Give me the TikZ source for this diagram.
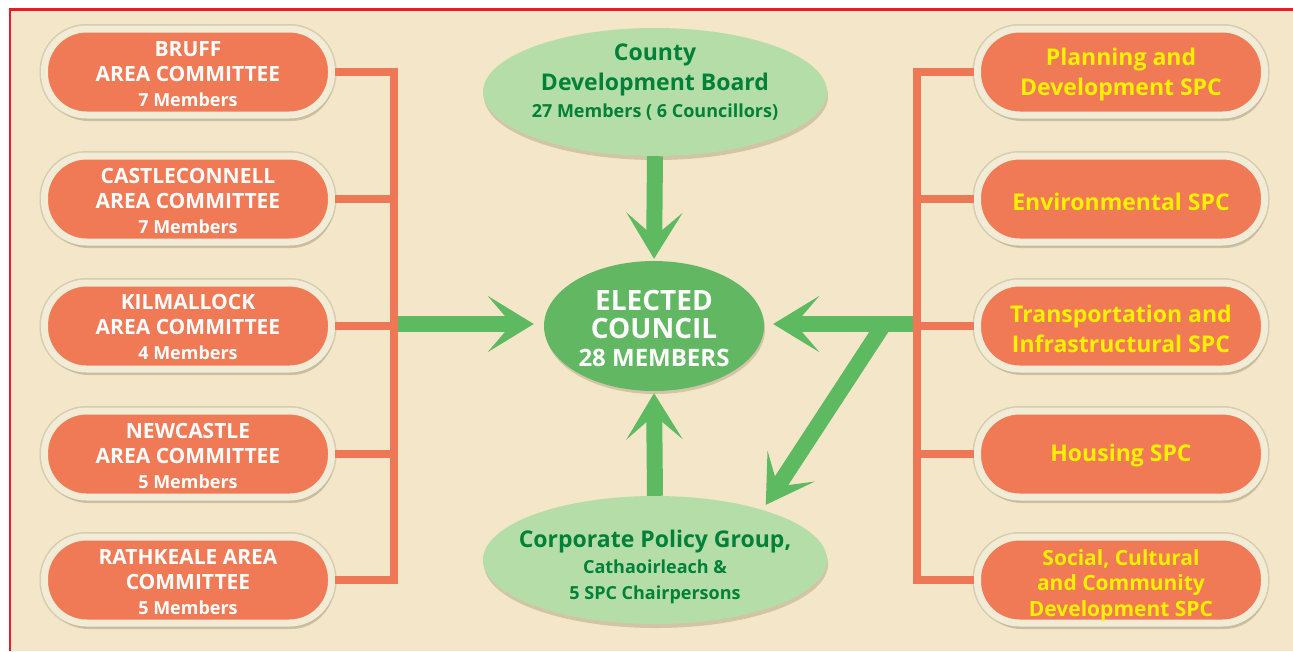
\documentclass[tikz,border=0pt]{standalone}
\usepackage{fontspec}
\setmainfont{Open Sans}
\usepackage{tikz}
\usetikzlibrary{arrows.meta}
\usetikzlibrary{shapes.geometric}
\usetikzlibrary{shadows}

\definecolor{bgbeige}{RGB}{243,230,201}
\definecolor{borderred}{RGB}{237,28,36}
\definecolor{pillorange}{RGB}{240,122,86}
\definecolor{ringcream}{RGB}{242,236,214}
\definecolor{ringedge}{RGB}{214,204,174}
\definecolor{shadowtan}{RGB}{196,184,152}
\definecolor{linkorange}{RGB}{238,120,86}
\definecolor{spcyellow}{RGB}{255,240,0}
\definecolor{arrowgreen}{RGB}{94,186,96}
\definecolor{councilgreen}{RGB}{98,184,98}
\definecolor{palegreen}{RGB}{181,221,167}
\definecolor{boardgreen}{RGB}{0,128,56}

% raises the top of the first line, so the text sits lower
\newcommand{\liftby}[1]{\rule{0pt}{#1}}

\tikzset{
  areabox/.style={rectangle, rounded corners=42pt, fill=pillorange, draw=ringcream,
    line width=7pt, minimum width=287pt, minimum height=86pt, inner sep=0pt,
    align=center, text=white, font=\bfseries\fontsize{21}{25}\selectfont,
    preaction={draw=ringedge, line width=10pt},
    drop shadow={shadow xshift=2pt, shadow yshift=-6pt, fill=shadowtan, opacity=.8}},
  spcbox/.style={areabox, text=spcyellow, font=\bfseries\fontsize{23}{30}\selectfont},
  greenoval/.style={ellipse, fill=palegreen, minimum width=344pt, minimum height=128pt,
    inner sep=-30pt, align=center, text=boardgreen, font=\bfseries\fontsize{23}{27}\selectfont,
    drop shadow={shadow xshift=1pt, shadow yshift=-4pt, fill=shadowtan, opacity=.7}},
  counciloval/.style={ellipse, fill=councilgreen, minimum width=220pt, minimum height=130pt,
    inner sep=-10pt, align=center, text=white, font=\bfseries\fontsize{28}{28}\selectfont,
    drop shadow={shadow xshift=1pt, shadow yshift=-3pt, fill=shadowtan, opacity=.7}},
  link/.style={draw=linkorange, line width=8pt},
  flow/.style={draw=arrowgreen, line width=16pt,
    -{Stealth[length=46pt, width=56pt, inset=24pt]}},
}

\begin{document}
\begin{tikzpicture}[x=1pt, y=-1pt]
    \useasboundingbox (0,0) rectangle (1293,651);
    \fill[white] (0,0) rectangle (1293,651);
    \fill[bgbeige] (10,10) rectangle (1293,651);
    \draw[borderred, line width=2.5pt] (10,651) -- (10,9.5) -- (1293,9.5);
    %% area committees
    \node[areabox] (bruff) at (188,72) {\liftby{19pt}BRUFF\\AREA COMMITTEE\\{\fontsize{18}{25}\selectfont 7 Members}};
    \node[areabox] (castle) at (188,199) {\liftby{20pt}CASTLECONNELL\\AREA COMMITTEE\\{\fontsize{18}{25}\selectfont 7 Members}};
    \node[areabox] (kilmallock) at (188,326) {\liftby{17pt}KILMALLOCK\\AREA COMMITTEE\\{\fontsize{18}{25}\selectfont 4 Members}};
    \node[areabox] (newcastle) at (188,454) {\liftby{20pt}NEWCASTLE\\AREA COMMITTEE\\{\fontsize{18}{25}\selectfont 5 Members}};
    \node[areabox] (rathkeale) at (188,580) {\liftby{19pt}RATHKEALE AREA\\COMMITTEE\\{\fontsize{18}{25}\selectfont 5 Members}};
    %% SPCs
    \node[spcbox, text depth=0pt] (planning) at (1121,72) {Planning and\\Development SPC};
    \node[spcbox, text height=23.5pt] (environ) at (1121,199) {Environmental SPC};
    \node[spcbox] (transport) at (1121,326) {\liftby{22.5pt}Transportation and\\Infrastructural SPC};
    \node[spcbox, text depth=1.5pt] (housing) at (1121,454) {Housing SPC};
    \node[spcbox, text depth=0pt, font=\bfseries\fontsize{21}{25.5}\selectfont] (social) at (1121,580) {\liftby{21pt}Social, Cultural\\and Community\\Development SPC};
    %% centre
    \node[greenoval, text depth=22pt] (cdb) at (655,92) {County\\[3pt]Development Board\\{\fontsize{18}{27}\selectfont 27 Members ( 6 Councillors)}};
    \node[counciloval] (council) at (654,326) {\liftby{26pt}ELECTED\\COUNCIL\\{\fontsize{24}{28}\selectfont 28 MEMBERS}};
    \node[greenoval, font=\bfseries\fontsize{23}{26}\selectfont] (cpg) at (655,560) {\liftby{31.5pt}Corporate Policy Group,\\{\fontsize{18}{25}\selectfont Cathaoirleach \&}\\{\fontsize{18}{25}\selectfont 5 SPC Chairpersons}};
    %% orange links
    \coordinate (lbot) at (394,580);
    \coordinate (rbot) at (917,580);
    \draw[link] (bruff.east) -| (lbot) -- (rathkeale.east);
    \draw[link] (castle.east) -- (castle.east -| lbot);
    \draw[link] (kilmallock.east) -- (kilmallock.east -| lbot);
    \draw[link] (newcastle.east) -- (newcastle.east -| lbot);
    \draw[link] (planning.west) -| (rbot) -- (social.west);
    \draw[link] (environ.west) -- (environ.west -| rbot);
    \draw[link] (transport.west) -- (transport.west -| rbot);
    \draw[link] (housing.west) -- (housing.west -| rbot);
    %% green arrows
    \coordinate (lmid) at (398,324);
    \coordinate (rmid) at (913,324);
    \coordinate (rjoin) at (884,324);
    \draw[flow, shorten >=10pt] (lmid) -- (lmid -| council.west);
    \draw[flow, shorten >=9pt] (rmid) -- (rmid -| council.east);
    \draw[flow, shorten >=6pt] (rjoin) -- (cpg.25);
    \draw[flow, shorten >=2pt] (cdb.south) -- (council.north);
    \draw[flow, shorten >=2pt] (cpg.north) -- (council.south);
\end{tikzpicture}
\end{document}
